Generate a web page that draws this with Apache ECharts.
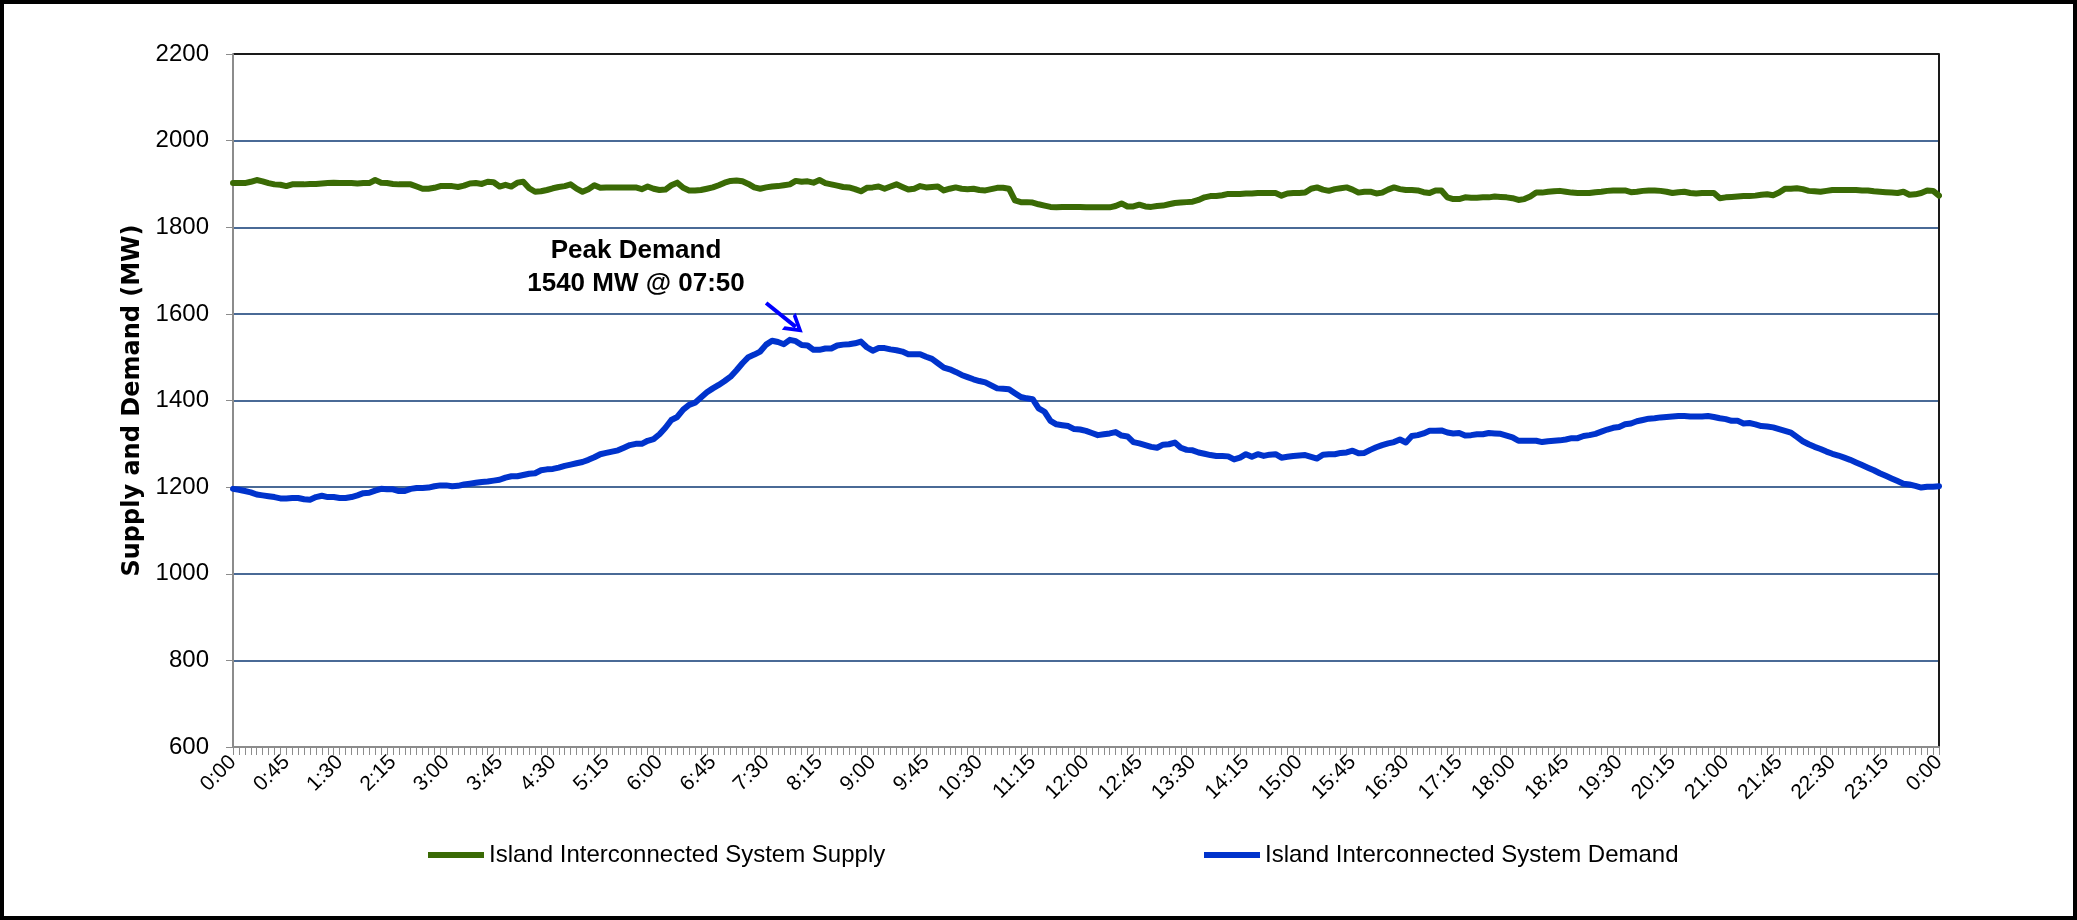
<!DOCTYPE html>
<html>
<head>
<meta charset="utf-8">
<script src="https://cdn.jsdelivr.net/npm/echarts@6/dist/echarts.min.js"></script>
<style>
  html, body { margin: 0; padding: 0; background: #fff; }
  #chart { width: 2077px; height: 920px; }
</style>
</head>
<body>
<div id="chart"></div>
<script>
// 5 minute readings, 0:00 -> 0:00 next day (289 points)
var timeLabels = [];
for (var m = 0; m <= 1440; m += 5) {
    var h = Math.floor(m / 60) % 24, mm = m % 60;
    timeLabels.push(h + ':' + (mm < 10 ? '0' : '') + mm);
}

var supplyName = 'Island Interconnected System Supply';
var demandName = 'Island Interconnected System Demand';

var supplyMW = [
    1902,1902,1902,1905,1909,1906,1902,1899,1898,1895,
    1899,1899,1899,1900,1900,1901,1902,1903,1902,1902,
    1902,1901,1902,1902,1909,1903,1902,1900,1899,1899,
    1899,1894,1889,1889,1891,1895,1895,1895,1893,1896,
    1901,1902,1900,1905,1904,1894,1898,1894,1903,1905,
    1890,1882,1883,1886,1890,1893,1895,1899,1889,1882,
    1888,1897,1891,1892,1892,1892,1892,1892,1892,1888,
    1894,1889,1886,1887,1897,1903,1891,1885,1885,1886,
    1889,1892,1897,1903,1907,1908,1906,1900,1892,1889,
    1892,1894,1895,1897,1899,1907,1905,1906,1903,1909,
    1902,1899,1896,1893,1892,1888,1883,1891,1892,1894,
    1889,1894,1899,1893,1887,1889,1895,1892,1893,1894,
    1885,1889,1892,1889,1888,1889,1886,1885,1888,1891,
    1891,1889,1862,1858,1858,1857,1853,1850,1847,1846,
    1847,1847,1847,1847,1846,1846,1846,1846,1846,1849,
    1855,1848,1848,1852,1848,1847,1849,1850,1853,1856,
    1857,1858,1859,1863,1869,1872,1872,1874,1877,1877,
    1877,1878,1878,1879,1879,1879,1879,1873,1878,1879,
    1879,1880,1889,1892,1887,1884,1888,1890,1892,1887,
    1880,1882,1882,1878,1880,1887,1892,1888,1886,1886,
    1885,1881,1879,1885,1885,1869,1865,1865,1869,1868,
    1868,1869,1869,1871,1870,1869,1867,1863,1865,1871,
    1880,1880,1882,1883,1884,1882,1880,1879,1879,1879,
    1881,1882,1884,1885,1885,1885,1881,1882,1884,1885,
    1885,1884,1882,1879,1881,1882,1879,1878,1879,1879,
    1879,1867,1869,1870,1871,1872,1872,1873,1875,1876,
    1874,1880,1889,1889,1890,1888,1884,1883,1882,1884,
    1886,1886,1886,1886,1886,1885,1885,1883,1882,1881,
    1880,1879,1882,1875,1876,1879,1885,1884,1873
];

var demandMW = [
    1196,1194,1191,1188,1183,1181,1179,1177,1174,1174,
    1175,1175,1172,1171,1177,1180,1177,1177,1175,1175,
    1177,1181,1186,1187,1192,1196,1195,1195,1191,1191,
    1196,1198,1198,1199,1202,1204,1204,1202,1203,1206,
    1208,1210,1212,1213,1215,1217,1222,1225,1225,1228,
    1231,1232,1239,1241,1242,1245,1249,1252,1255,1258,
    1263,1269,1276,1279,1282,1285,1291,1297,1300,1300,
    1307,1311,1322,1337,1355,1362,1379,1390,1395,1407,
    1419,1428,1436,1445,1455,1470,1486,1500,1506,1513,
    1529,1538,1535,1530,1540,1537,1528,1527,1517,1517,
    1520,1520,1527,1529,1530,1532,1536,1523,1515,1521,
    1521,1518,1516,1513,1507,1507,1507,1501,1496,1486,
    1476,1472,1466,1459,1454,1449,1445,1442,1435,1428,
    1427,1426,1417,1408,1405,1403,1382,1374,1353,1345,
    1343,1341,1334,1333,1330,1325,1320,1322,1324,1327,
    1319,1317,1304,1301,1297,1293,1291,1298,1299,1303,
    1291,1286,1285,1280,1277,1274,1272,1272,1271,1264,
    1268,1276,1270,1276,1272,1275,1276,1268,1270,1272,
    1273,1274,1270,1266,1275,1276,1276,1279,1280,1284,
    1278,1279,1286,1292,1297,1301,1304,1310,1303,1318,
    1320,1324,1330,1330,1331,1326,1324,1325,1319,1320,
    1322,1322,1325,1324,1323,1319,1315,1307,1307,1307,
    1307,1304,1306,1307,1308,1310,1313,1313,1318,1320,
    1323,1328,1333,1337,1339,1345,1347,1352,1355,1358,
    1359,1361,1362,1363,1364,1364,1363,1363,1363,1364,
    1362,1359,1357,1353,1353,1347,1348,1345,1341,1340,
    1338,1334,1330,1326,1316,1306,1299,1293,1288,1282,
    1277,1273,1268,1263,1257,1251,1245,1239,1232,1226,
    1220,1214,1208,1206,1203,1199,1201,1201,1202
];

// peak annotation arrow: [category index, MW]
var peakArrowFrom = [90, 1625];
var peakArrowTo = [95, 1570];

var yTicks = { min: 600, max: 2200, step: 200 };

var font = '"Liberation Sans", Arial, sans-serif';
var gridBlue = '#4a6a96';
var axisGray = '#8c8c8c';

var chart = echarts.init(document.getElementById('chart'));

var legendCommon = {
    top: 838,
    icon: 'rect',
    itemWidth: 56,
    itemHeight: 6,
    itemGap: 0,
    selectedMode: false,
    textStyle: { fontFamily: font, fontSize: 24, color: '#000' }
};

var option = {
    animation: false,
    backgroundColor: '#fff',
    grid: { left: 233, top: 54, width: 1706, height: 693, containLabel: false },
    legend: [
        Object.assign({ data: [supplyName], left: 423 }, legendCommon),
        Object.assign({ data: [demandName], left: 1199 }, legendCommon)
    ],
    xAxis: {
        type: 'category',
        data: timeLabels,
        boundaryGap: false,
        axisLine: { show: true, lineStyle: { color: axisGray, width: 2 } },
        axisTick: { show: true, interval: 0, length: 8, lineStyle: { color: axisGray, width: 1 } },
        axisLabel: {
            interval: 8,
            rotate: 45,
            margin: 12,
            color: '#000',
            fontFamily: font,
            fontSize: 21
        },
        splitLine: { show: false }
    },
    yAxis: [{
        type: 'value',
        min: yTicks.min,
        max: yTicks.max,
        interval: yTicks.step,
        name: 'Supply and Demand (MW)',
        nameLocation: 'middle',
        nameGap: 83,
        nameTextStyle: { fontFamily: '"DejaVu Sans", Verdana, sans-serif', fontWeight: 'bold', fontSize: 24, color: '#000' },
        axisLine: { show: true, lineStyle: { color: axisGray, width: 2 } },
        axisTick: { show: true, length: 7, lineStyle: { color: axisGray, width: 1 } },
        axisLabel: {
            margin: 24, color: '#000', fontFamily: font, fontSize: 24,
            formatter: function (v) { return String(v); }
        },
        splitLine: {
            show: true,
            lineStyle: {
                width: 2,
                color: [axisGray, gridBlue, gridBlue, gridBlue, gridBlue, gridBlue, gridBlue, gridBlue, '#1a1a1a']
            }
        }
    }, {
        type: 'value',
        min: yTicks.min,
        max: yTicks.max,
        interval: yTicks.step,
        position: 'right',
        axisLine: { show: true, lineStyle: { color: '#1a1a1a', width: 2 } },
        axisTick: { show: false },
        axisLabel: { show: false },
        splitLine: { show: false }
    }],
    series: [{
        name: supplyName,
        type: 'line',
        data: supplyMW,
        showSymbol: false,
        symbol: 'none',
        lineStyle: { color: '#3a6a05', width: 6, join: 'round', cap: 'round' },
        itemStyle: { color: '#3a6a05' },
        z: 3
    }, {
        name: demandName,
        type: 'line',
        data: demandMW,
        showSymbol: false,
        symbol: 'none',
        lineStyle: { color: '#0033cc', width: 6, join: 'round', cap: 'round' },
        itemStyle: { color: '#0033cc' },
        z: 4,
        markLine: {
            silent: true,
            symbol: ['none', 'path://M10,0 L20,15 L16,15 L10,6 L4,15 L0,15 Z'],
            symbolSize: [22, 18],
            label: { show: false },
            lineStyle: { color: '#0000ff', width: 4, type: 'solid' },
            data: [[{ coord: peakArrowFrom }, { coord: peakArrowTo }]]
        }
    }],
    graphic: [{
        type: 'text',
        x: 636,
        y: 234,
        style: {
            text: 'Peak Demand\n1540 MW @ 07:50',
            textAlign: 'center',
            font: 'bold 26px ' + font,
            lineHeight: 33,
            fill: '#000'
        }
    }, {
        type: 'rect',
        shape: { x: 2, y: 2, width: 2073, height: 916 },
        style: { fill: 'none', stroke: '#000', lineWidth: 4 },
        silent: true
    }]
};

chart.setOption(option);
</script>
</body>
</html>
